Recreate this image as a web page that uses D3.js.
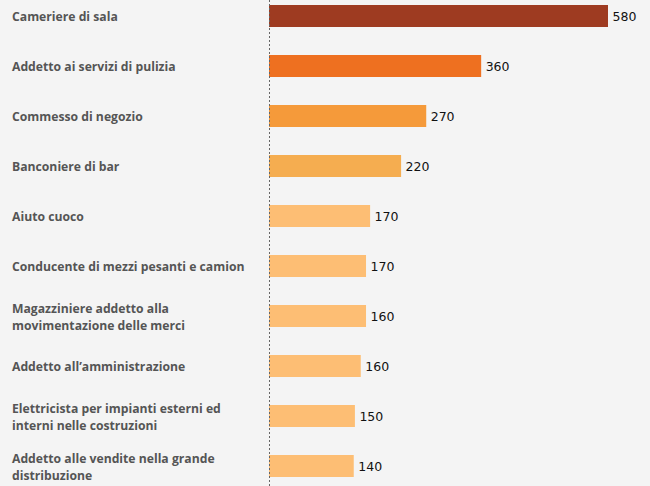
<!DOCTYPE html>
<html>
<head>
<meta charset="utf-8">
<script src="https://cdn.jsdelivr.net/npm/d3@7"></script>
<style>
  html, body { margin: 0; padding: 0; background: #f4f4f4; }
  .lab { font-family: "Open Sans", sans-serif; font-weight: 700; font-size: 12.2px; fill: #555; }
  .val { font-family: "DejaVu Sans", sans-serif; font-size: 12.5px; fill: #111; }
</style>
</head>
<body>
<div id="chart"></div>
<script>
const jobs = [
    ["Cameriere di sala"],
    ["Addetto ai servizi di pulizia"],
    ["Commesso di negozio"],
    ["Banconiere di bar"],
    ["Aiuto cuoco"],
    ["Conducente di mezzi pesanti e camion"],
    ["Magazziniere addetto alla", "movimentazione delle merci"],
    ["Addetto all\u2019amministrazione"],
    ["Elettricista per impianti esterni ed", "interni nelle costruzioni"],
    ["Addetto alle vendite nella grande", "distribuzione"]
];
// bar lengths; the printed labels are rounded
const values = [580, 363, 269, 226, 173, 166, 166, 157, 147, 145];
const valueLabels = ["580", "360", "270", "220", "170", "170", "160", "160", "150", "140"];
const colors = ["#9e3b21", "#ee7020", "#f59a3a", "#f5ad50", "#fdbe74", "#fdbe74", "#fdbe74", "#fdbe74", "#fdbe74", "#fdbe74"];

let width = 650;
let height = 486;

let svg = d3.select("#chart").append("svg")
    .attr("width", width)
    .attr("height", height);

let idx = d3.range(values.length);

//x: value -> pixels, bars start at the dotted line
let xScale = d3.scaleLinear()
    .domain([0, 580])
    .range([269, 608]);

let yScale = d3.scaleBand()
    .domain(idx)
    .range([-9, 491])
    .paddingInner(0.56)
    .paddingOuter(0.28);

svg.selectAll("rect.bar")
    .data(idx)
    .enter().append("rect")
    .attr("class", "bar")
    .attr("x", xScale(0))
    .attr("y", i => yScale(i))
    .attr("width", i => xScale(values[i]) - xScale(0))
    .attr("height", yScale.bandwidth())
    .attr("fill", i => colors[i]);

// dotted baseline
svg.append("line")
    .attr("x1", xScale(0) + 0.5).attr("x2", xScale(0) + 0.5)
    .attr("y1", 0).attr("y2", height)
    .attr("stroke", "#666")
    .attr("stroke-width", 1)
    .attr("stroke-dasharray", "2,2");

svg.selectAll("text.val")
    .data(idx)
    .enter().append("text")
    .attr("class", "val")
    .attr("x", i => xScale(values[i]) + 4.5)
    .attr("y", i => yScale(i) + yScale.bandwidth() / 2)
    .attr("dy", "0.38em")
    .text(i => valueLabels[i]);

let labels = svg.selectAll("text.lab")
    .data(idx)
    .enter().append("text")
    .attr("class", "lab")
    .attr("x", 12)
    .attr("y", i => yScale(i) + yScale.bandwidth() / 2 + 1);

labels.each(function(i) {
    let lines = jobs[i];
    let t = d3.select(this);
    lines.forEach((s, k) => {
        t.append("tspan")
            .attr("x", 12)
            .attr("dy", k === 0 ? ((0.35 - (lines.length - 1) * 0.7) + "em") : "1.4em")
            .text(s);
    });
});
</script>
</body>
</html>
